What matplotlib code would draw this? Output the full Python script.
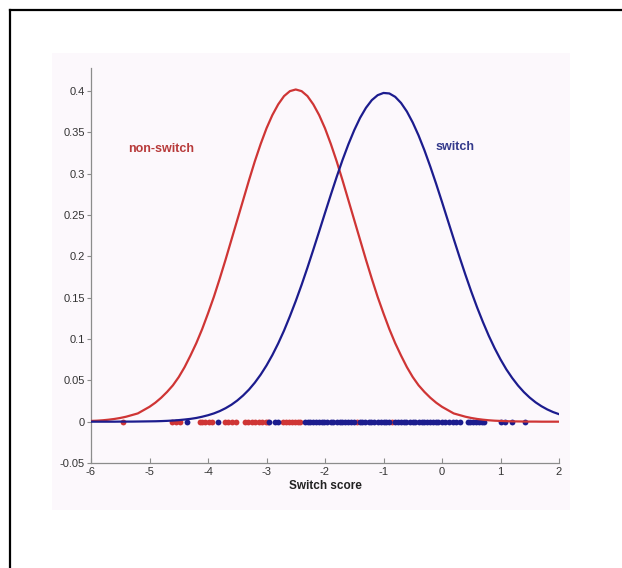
import matplotlib
matplotlib.use("Agg")
import matplotlib.pyplot as plt
from matplotlib.patches import Rectangle
from matplotlib.lines import Line2D

plt.rcParams["font.family"] = ["Liberation Sans", "DejaVu Sans"]

# score grid (step 0.1) and curve heights
score_grid = [-6.0, -5.9, -5.8, -5.7, -5.6, -5.5, -5.4, -5.3, -5.2, -5.1,
              -5.0, -4.9, -4.8, -4.7, -4.6, -4.5, -4.4, -4.3, -4.2, -4.1,
              -4.0, -3.9, -3.8, -3.7, -3.6, -3.5, -3.4, -3.3, -3.2, -3.1,
              -3.0, -2.9, -2.8, -2.7, -2.6, -2.5, -2.4, -2.3, -2.2, -2.1,
              -2.0, -1.9, -1.8, -1.7, -1.6, -1.5, -1.4, -1.3, -1.2, -1.1,
              -1.0, -0.9, -0.8, -0.7, -0.6, -0.5, -0.4, -0.3, -0.2, -0.1,
              0.0, 0.1, 0.2, 0.3, 0.4, 0.5, 0.6, 0.7, 0.8, 0.9,
              1.0, 1.1, 1.2, 1.3, 1.4, 1.5, 1.6, 1.7, 1.8, 1.9,
              2.0]
nonswitch_density = [0.0009, 0.0012, 0.0017, 0.0024, 0.0033, 0.0045, 0.006, 0.008, 0.010, 0.014,
                     0.018, 0.023, 0.029, 0.036, 0.044, 0.054, 0.066, 0.080, 0.095, 0.112,
                     0.131, 0.151, 0.173, 0.196, 0.220, 0.244, 0.268, 0.292, 0.315, 0.336,
                     0.355, 0.371, 0.384, 0.394, 0.400, 0.402, 0.400, 0.394, 0.384, 0.371,
                     0.355, 0.336, 0.315, 0.292, 0.268, 0.244, 0.220, 0.196, 0.173, 0.151,
                     0.131, 0.112, 0.095, 0.080, 0.066, 0.054, 0.044, 0.036, 0.029, 0.023,
                     0.018, 0.014, 0.010, 0.008, 0.006, 0.0045, 0.0033, 0.0024, 0.0017, 0.0012,
                     0.0009, 0.0006, 0.0004, 0.0003, 0.0002, 0.0001, 0.0001, 0.0, 0.0, 0.0,
                     0.0]
switch_density = [0.0, 0.0, 0.0, 0.0, 0.0, 0.0001, 0.0001, 0.0001, 0.0002, 0.0003,
                  0.0004, 0.0005, 0.0007, 0.0010, 0.0014, 0.0019, 0.0026, 0.0034, 0.0045, 0.0060,
                  0.0078, 0.0100, 0.0128, 0.0163, 0.0205, 0.0256, 0.0317, 0.0388, 0.0472, 0.0569,
                  0.0680, 0.0806, 0.0947, 0.1103, 0.1276, 0.1460, 0.1656, 0.1864, 0.2081, 0.2302,
                  0.2526, 0.2747, 0.2963, 0.3168, 0.3357, 0.3528, 0.3677, 0.3798, 0.3891, 0.3951,
                  0.3978, 0.3972, 0.3931, 0.3857, 0.3753, 0.3620, 0.3463, 0.3284, 0.3087, 0.2878,
                  0.2659, 0.2435, 0.2212, 0.1992, 0.1779, 0.1575, 0.1383, 0.1205, 0.1039, 0.0889,
                  0.0754, 0.0633, 0.0529, 0.0437, 0.0358, 0.0291, 0.0234, 0.0187, 0.0148, 0.0116,
                  0.0091]

# individual scores shown as dots on the zero line
nonswitch_scores = [-5.45, -4.62, -4.54, -4.48, -4.14, -4.10, -4.05, -3.99, -3.94,
                    -3.71, -3.65, -3.59, -3.52, -3.37, -3.31, -3.25, -3.19, -3.13,
                    -3.07, -3.01, -2.98, -2.72, -2.67, -2.62, -2.57, -2.52, -2.47,
                    -2.42, -1.45, -0.85]
switch_scores = [-4.36, -3.83, -2.95, -2.85, -2.80,
                 -2.34, -2.29, -2.25, -2.20, -2.16, -2.10, -2.05, -2.01, -1.96, -1.90,
                 -1.86, -1.80, -1.75, -1.71, -1.66, -1.60, -1.55, -1.51, -1.40, -1.36,
                 -1.31, -1.25, -1.21, -1.16, -1.10, -1.05, -1.00, -0.95, -0.91, -0.80,
                 -0.76, -0.70, -0.65, -0.61, -0.55, -0.50, -0.46, -0.40, -0.35, -0.31,
                 -0.26, -0.20, -0.15, -0.11, -0.06, 0.00, 0.05, 0.12, 0.18, 0.24,
                 0.30, 0.44, 0.48, 0.53, 0.58, 0.63, 0.68, 0.72,
                 1.00, 1.08, 1.20, 1.42]

x_ticks = [-6, -5, -4, -3, -2, -1, 0, 1, 2]
y_ticks = [-0.05, 0, 0.05, 0.1, 0.15, 0.2, 0.25, 0.3, 0.35, 0.4]
y_tick_labels = ["-0.05", "0", "0.05", "0.1", "0.15", "0.2", "0.25", "0.3", "0.35", "0.4"]

RED = "#cf3535"
BLUE = "#1c1c8e"

fig = plt.figure(figsize=(6.22, 5.68), dpi=100)

# faint tinted panel behind the plot and the partial frame of the screenshot
fig.patches.append(Rectangle((52 / 622, 1 - 510 / 568), (570 - 52) / 622, (510 - 53) / 568,
                             transform=fig.transFigure, facecolor="#fcf8fc",
                             edgecolor="none", zorder=-5))
fig.lines.append(Line2D([10 / 622, 10 / 622], [0, 1 - 10 / 568], transform=fig.transFigure,
                        color="black", linewidth=1.6))
fig.lines.append(Line2D([10 / 622, 1], [1 - 10 / 568, 1 - 10 / 568], transform=fig.transFigure,
                        color="black", linewidth=1.6))

ax = fig.add_axes([91 / 622, 1 - 463 / 568, (559 - 91) / 622, (463 - 68) / 568])
ax.set_facecolor("none")
ax.set_zorder(1)

zeros_ns = [0] * len(nonswitch_scores)
zeros_s = [0] * len(switch_scores)
ax.plot(nonswitch_scores, zeros_ns, "o", color=RED, markersize=4.2, markeredgewidth=0, zorder=2)
ax.plot(switch_scores, zeros_s, "o", color=BLUE, markersize=4.2, markeredgewidth=0, zorder=2)

ax.plot(score_grid, nonswitch_density, color=RED, linewidth=1.6, zorder=3)
ax.plot(score_grid, switch_density, color=BLUE, linewidth=1.6, zorder=3)

ax.text(-4.80, 0.330, "non-switch", color="#b83b3b", fontsize=9, fontweight="bold",
        ha="center", va="center")
ax.text(0.22, 0.332, "switch", color="#343a8c", fontsize=9, fontweight="bold",
        ha="center", va="center")

ax.set_xlim(-6, 2)
ax.set_ylim(-0.05, 0.428)
ax.set_xticks(x_ticks)
ax.set_xticklabels([str(t) for t in x_ticks])
ax.set_yticks(y_ticks)
ax.set_yticklabels(y_tick_labels)

for side in ["top", "right"]:
    ax.spines[side].set_visible(False)
for side in ["left", "bottom"]:
    ax.spines[side].set_color("#8c8c8c")
    ax.spines[side].set_linewidth(0.9)

ax.tick_params(axis="x", direction="in", length=3.5, width=0.8, color="#8c8c8c",
               labelsize=8, labelcolor="#333333", pad=3)
ax.tick_params(axis="y", direction="out", length=3, width=0.8, color="#8c8c8c",
               labelsize=8, labelcolor="#333333", pad=1.5)

ax.set_xlabel("Switch score", fontsize=8.5, fontweight="bold", color="#222222", labelpad=2)

plt.savefig("out.png", dpi=100)
plt.close()
